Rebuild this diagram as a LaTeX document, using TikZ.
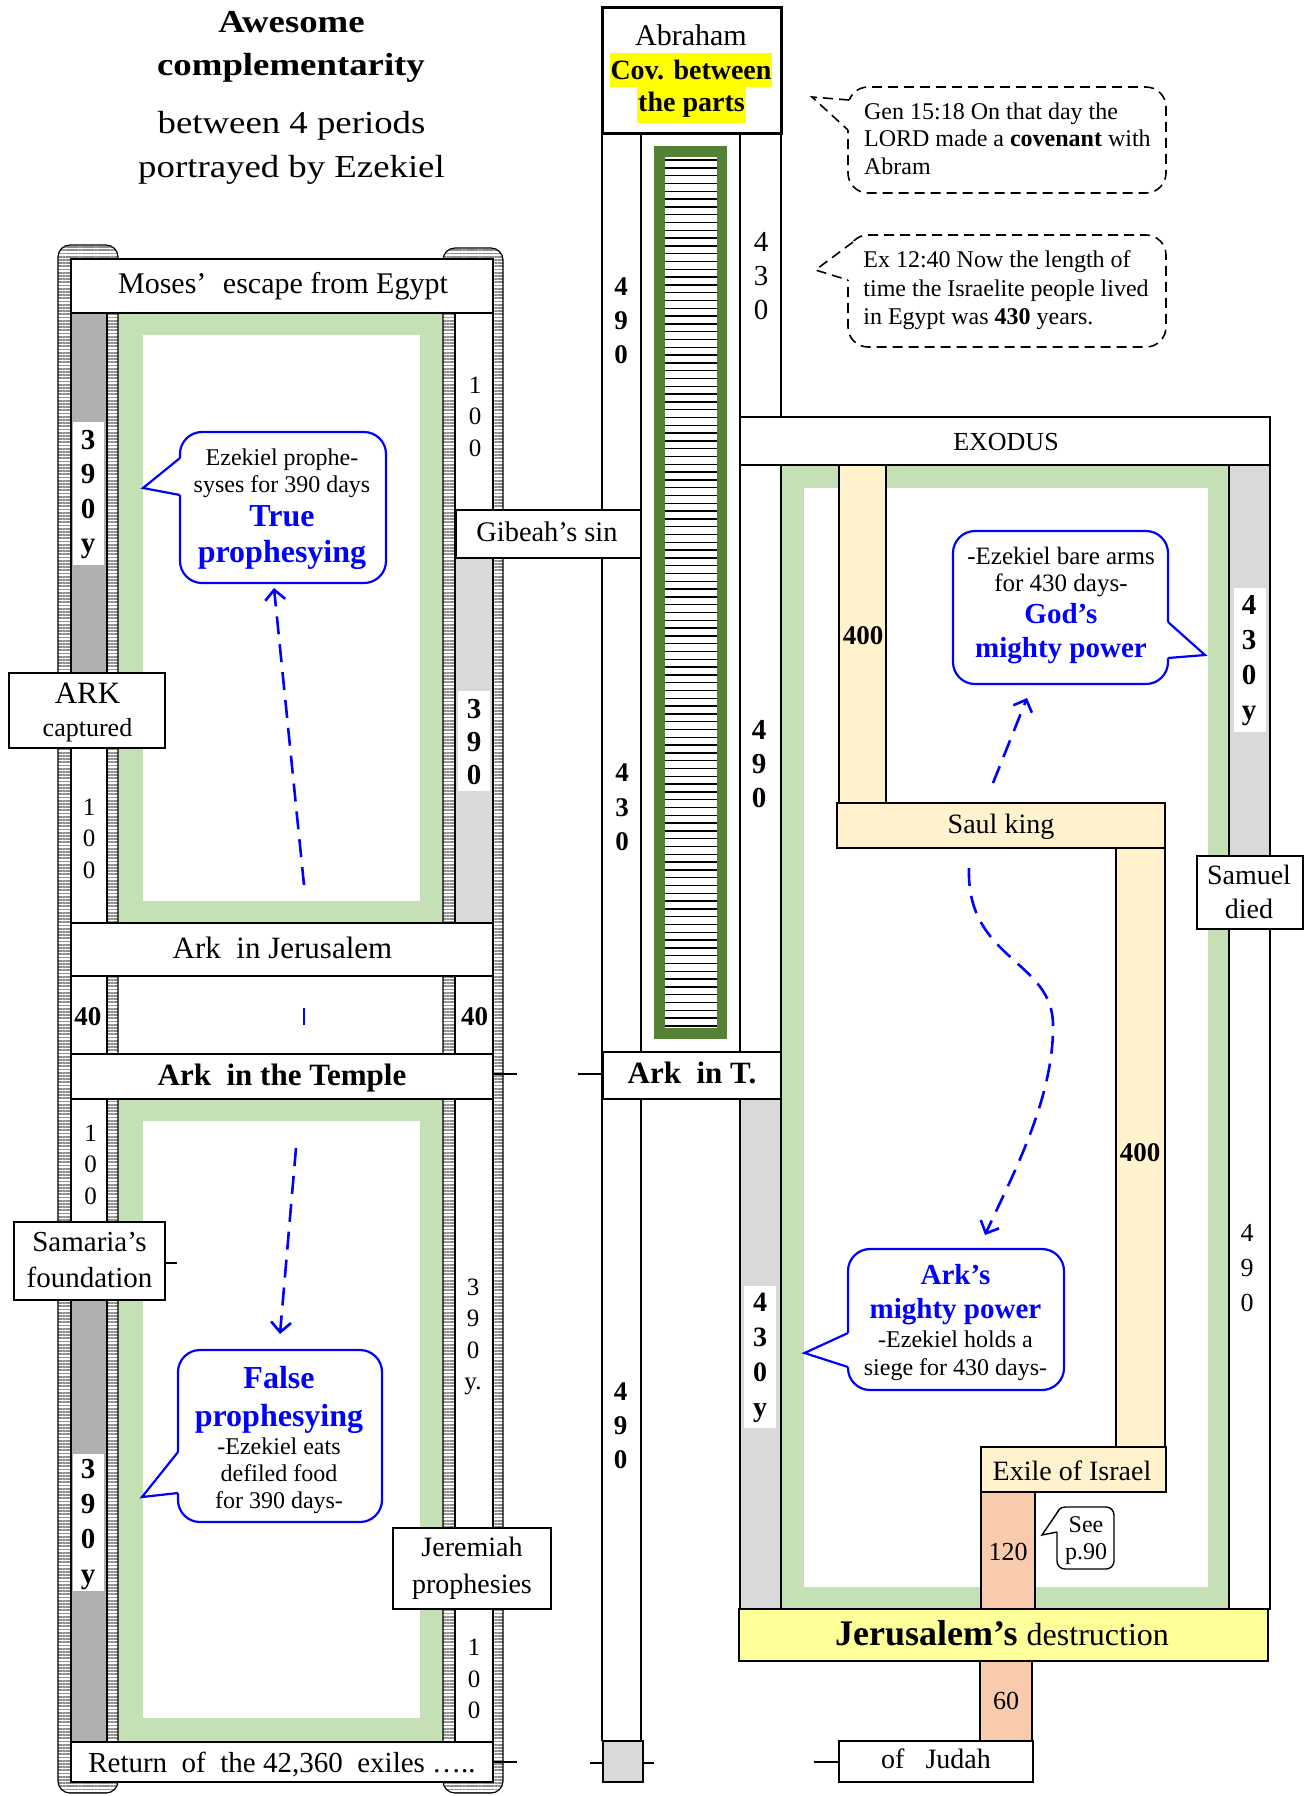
\documentclass[tikz,border=0pt]{standalone}
\usepackage{fontspec}
\setmainfont{Liberation Serif}
\newfontfamily\titlefont[FakeStretch=1.15]{Liberation Serif}
\usetikzlibrary{arrows.meta,patterns.meta}
\definecolor{gframe}{RGB}{197,224,180}
\definecolor{dgreen}{RGB}{84,130,53}
\definecolor{colgray}{RGB}{175,175,175}
\definecolor{lgray}{RGB}{217,217,217}
\definecolor{ylw}{RGB}{255,242,204}
\definecolor{orng}{RGB}{248,203,173}
\definecolor{jyel}{RGB}{255,255,153}
\definecolor{hyel}{RGB}{255,255,0}
\definecolor{bblue}{RGB}{0,0,255}
\begin{document}
\begin{tikzpicture}[x=0.5pt,y=-0.5pt,
 txt/.style={inner sep=0pt, align=center},
 fs/.style 2 args={font=\fontsize{#1}{#2}\selectfont},
 fsb/.style 2 args={font=\fontsize{#1}{#2}\selectfont\bfseries},
 bx/.style={draw=black, fill=white, line width=0.6pt},
 railfill/.style={pattern={Lines[angle=0,distance=1.6pt,line width=0.9pt]}, pattern color=black!45},
 ln/.style={line width=0.6pt},
 tk/.style={line width=1.4pt},
 tkthin/.style={line width=0.8pt},
 bub/.style={draw=bblue, fill=white, line width=1.1pt, rounded corners=11pt},
 bubline/.style={draw=bblue, line width=1.1pt},
 dbub/.style={draw=black, fill=white, line width=0.8pt, dash pattern=on 5pt off 3pt, rounded corners=10pt},
 dline/.style={draw=black, line width=0.8pt, dash pattern=on 5pt off 3pt},
 sbub/.style={draw=black, fill=white, line width=0.7pt, rounded corners=4pt},
 barrow/.style={draw=bblue, line width=1.3pt, dash pattern=on 9pt off 5pt, -{Straight Barb[length=5pt,width=10pt]}},
 bdash/.style={draw=bblue, line width=1.3pt},
]
\fill[white] (0,0) rectangle (1307,1796);
\useasboundingbox (0,0) rectangle (1307,1796);

% ---------------- title
\node[txt, anchor=base, font={\fontsize{16}{19}\titlefont\bfseries}] (title1) at (291.5,32) {Awesome};
\node[txt, anchor=base, font={\fontsize{16}{19}\titlefont\bfseries}] (title2) at (291,75) {complementarity};
\node[txt, anchor=base, font={\fontsize{16}{19}\titlefont}] (title3) at (291.5,133) {between 4 periods};
\node[txt, anchor=base, font={\fontsize{16}{19}\titlefont}] (title4) at (291.5,177) {portrayed by Ezekiel};

% ---------------- left scroll rails
\path[railfill, rounded corners=6pt] (58,245) rectangle (118,1793);
\path[railfill, rounded corners=6pt] (443,248) rectangle (503,1793);

% green frames
\fill[gframe] (118,313) rectangle (443,923);
\fill[white] (143,335) rectangle (420,901);
\fill[gframe] (118,1099) rectangle (443,1742);
\fill[white] (143,1121) rectangle (420,1718);

% left column
\fill[white] (71,259) rectangle (107,1782);
\fill[colgray] (71,313) rectangle (107,673);
\fill[white] (73,422) rectangle (104,565);
\fill[colgray] (71,1300) rectangle (107,1742);
\fill[white] (73,1454) rectangle (104,1591);
\draw[ln] (71,259) rectangle (107,1782);
% right column
\fill[white] (455,259) rectangle (493,1782);
\fill[lgray] (455,558) rectangle (493,923);
\fill[white] (458,691) rectangle (490,791);
\draw[ln] (455,259) rectangle (493,1782);
% rail outlines
\draw[ln, rounded corners=6pt] (58,245) rectangle (118,1793);
\draw[ln, rounded corners=6pt] (443,248) rectangle (503,1793);

% ---------------- middle column
\draw[ln] (602,133) -- (602,1741);
\draw[ln] (641,133) -- (641,1741);
\draw[ln] (740,133) -- (740,417);
\draw[ln] (781,133) -- (781,417);
\fill[dgreen] (654,146) rectangle (727,1039);
\fill[white] (665,157) rectangle (717,1028);
\foreach \k in {0,...,111} {\draw[line width=0.7pt] (665,{160+7.8*\k}) -- (717,{160+7.8*\k});}
\draw[line width=1.5pt, fill=white] (602,7) rectangle (781,133);

% ---------------- right section
\fill[gframe] (781,465) rectangle (1229,1609);
\fill[white] (804,488) rectangle (1208,1587);
\fill[lgray] (1229,465) rectangle (1270,856);
\fill[white] (1234,588) rectangle (1266,732);
\fill[lgray] (740,1099) rectangle (781,1609);
\fill[white] (744,1286) rectangle (776,1428);
\draw[ln] (740,465) rectangle (1270,1609);
\draw[ln] (781,465) -- (781,1609);
\draw[ln] (1229,465) -- (1229,1609);
\draw[ln, fill=ylw] (839,465) rectangle (886,803);
\draw[ln, fill=ylw] (1116,848) rectangle (1165,1447);
\draw[ln, fill=ylw] (837,803) rectangle (1165,848);
\draw[ln, fill=ylw] (981,1447) rectangle (1166,1492);
\draw[ln, fill=orng] (981,1492) rectangle (1035,1609);
\draw[ln, fill=orng] (980,1661) rectangle (1032,1741);
\draw[line width=0.8pt, fill=jyel] (739,1609) rectangle (1268,1661);

% ---------------- boxes
\draw[bx] (71,259) rectangle (493,313);
\draw[bx] (456,510) rectangle (641,558);
\draw[bx] (9,673) rectangle (165,748);
\draw[bx] (71,923) rectangle (493,976);
\draw[bx] (71,1054) rectangle (493,1099);
\draw[bx] (14,1222) rectangle (165,1300);
\draw[bx] (393,1528) rectangle (551,1609);
\draw[bx] (71,1742) rectangle (493,1782);
\draw[bx] (740,417) rectangle (1270,465);
\draw[bx] (603,1052) rectangle (781,1099);
\draw[bx] (1197,856) rectangle (1303,929);
\draw[bx] (839,1741) rectangle (1033,1782);
\draw[ln, fill=lgray] (603,1741) rectangle (643,1782);

% ticks
\draw[tk] (165,1263) -- (177,1263);
\draw[tk] (493,1074) -- (517,1074);
\draw[tkthin] (578,1074) -- (603,1074);
\draw[tk] (493,1762) -- (517,1762);
\draw[tkthin] (590,1763) -- (603,1763);
\draw[tkthin] (643,1763) -- (654,1763);
\draw[tk] (814,1762) -- (839,1762);

% ---------------- box texts
\node[txt, fs={15}{18}] (moses) at (283,286.5) {Moses’\hspace{0.3em} escape from Egypt};
\node[txt, fs={14.2}{17}] (gibeah) at (547,532) {Gibeah’s sin};
\node[txt, fs={15.5}{18}] (ark1) at (87.5,693.5) {ARK};
\node[txt, fs={13}{16}] (ark2) at (87.5,730) {captured};
\node[txt, fs={15.5}{18}] (arkjer) at (282.5,947.6) {Ark\ \ in Jerusalem};
\node[txt, fsb={15.5}{18}] (arktemple) at (282,1078) {Ark\ \ in the Temple};
\node[txt, fs={14.5}{18.3}] (samaria) at (89.5,1260) {Samaria’s\\foundation};
\node[txt, fs={14}{18.3}] (jeremiah) at (472,1568) {Jeremiah\\prophesies};
\node[txt, fs={14.5}{18}] (return) at (282,1764) {Return\ \ of\ \ the 42,360\ \ exiles …..};
\node[txt, fs={15}{18}] (abraham) at (691,34.8) {Abraham};
\node[txt, fsb={14}{17}, fill=hyel, inner xsep=0.5pt, minimum height=17pt] (cov1) at (691,70) {Cov. between};
\node[txt, fsb={14}{17}, fill=hyel, inner xsep=0.5pt, minimum height=18pt] (cov2) at (691.5,105) {the parts};
\node[txt, fsb={15.5}{18}] (arkT) at (692,1072.8) {Ark\ \ in T.};
\node[txt, fs={13}{16}] (exodus) at (1006,442) {EXODUS};
\node[txt, fs={14}{17}] (saul) at (1001,826.3) {Saul king};
\node[txt, fs={14}{17}] (exile) at (1072,1470.5) {Exile of Israel};
\node[txt, fs={14}{16.7}] (samuel) at (1249,892) {Samuel\\died};
\node[txt, fs={14}{17}] (judah) at (936,1759) {of\ \ \ Judah};
\node[txt, fs={13}{16}] (n120) at (1008,1551.5) {120};
\node[txt, fs={13}{16}] (n60) at (1006,1701) {60};
\node[txt, fsb={13.5}{16}] (y400a) at (863,635.8) {400};
\node[txt, fsb={13.5}{16}] (y400b) at (1140,1152.4) {400};
\node[txt] (jerus) at (1002,1633.3) {{\fontsize{18}{20}\selectfont\bfseries Jerusalem’s }{\fontsize{16}{20}\selectfont destruction}};

% ---------------- digit stacks
\node[txt, fsb={14.5}{17.2}] (d390a) at (88,494.5) {3\\9\\0\\y};
\node[txt, fs={12.5}{15.75}] (d100a) at (475,416.5) {1\\0\\0};
\node[txt, fsb={14.5}{16.5}] (d390b) at (474,742) {3\\9\\0};
\node[txt, fs={12.5}{15.75}] (d100b) at (89,838.5) {1\\0\\0};
\node[txt, fsb={13.5}{16}] (d40a) at (88,1016.6) {40};
\node[txt, fsb={13.5}{16}] (d40b) at (474.5,1016.6) {40};
\node[txt, fs={12.5}{15.75}] (d100c) at (90.5,1164.7) {1\\0\\0};
\node[txt, fsb={14.5}{17.5}] (d390c) at (88,1525) {3\\9\\0\\y};
\node[txt, fs={12.5}{15.8}] (d390d) at (473,1337) {3\\9\\0\\y.};
\node[txt, fs={12.5}{15.75}] (d100d) at (474,1679.3) {1\\0\\0};
\node[txt, fsb={13.5}{17}] (d490a) at (621,321) {4\\9\\0};
\node[txt, fs={14.5}{17}] (d430a) at (761,276) {4\\3\\0};
\node[txt, fsb={13.5}{17.25}] (d430b) at (622,807.5) {4\\3\\0};
\node[txt, fsb={13.5}{17}] (d490b) at (620.5,1426) {4\\9\\0};
\node[txt, fsb={14.5}{17}] (d490c) at (759,764) {4\\9\\0};
\node[txt, fsb={14.5}{17.5}] (d430c) at (1249,661) {4\\3\\0\\y};
\node[txt, fs={13}{17.5}] (d490d) at (1247,1268) {4\\9\\0};
\node[txt, fsb={14}{17.5}] (d430d) at (760,1358) {4\\3\\0\\y};

% ---------------- blue bubbles
\draw[bub] (180,432) rectangle (386,583);
\fill[white] (184,458) -- (180,458) -- (143,488) -- (180,495) -- (184,495) -- cycle;
\draw[bubline] (180,458) -- (143,488) -- (180,495);
\node[txt, fs={12}{13.5}] (tp1) at (282,473) {Ezekiel prophe-\\syses for 390 days};
\node[txt, fsb={16}{18}, text=bblue] (tp2) at (282,538) {True\\prophesying};

\draw[bub] (178,1350) rectangle (382,1522);
\fill[white] (182,1452) -- (178,1452) -- (142,1497) -- (178,1493) -- (182,1493) -- cycle;
\draw[bubline] (178,1452) -- (142,1497) -- (178,1493);
\node[txt, fsb={16}{19}, text=bblue] (fp1) at (279,1400) {False\\prophesying};
\node[txt, fs={12}{13.6}] (fp2) at (279,1475.6) {-Ezekiel eats\\defiled food\\for 390 days-};

\draw[bub] (953,531) rectangle (1168,684);
\fill[white] (1164,622) -- (1168,622) -- (1205,655) -- (1168,658) -- (1164,658) -- cycle;
\draw[bubline] (1168,622) -- (1205,655) -- (1168,658);
\node[txt, fs={12.5}{13.8}] (gp1) at (1061,572) {-Ezekiel bare arms\\for 430 days-};
\node[txt, fsb={14.5}{17}, text=bblue] (gp2) at (1061,633.5) {God’s\\mighty power};

\draw[bub] (848,1249) rectangle (1064,1390);
\fill[white] (852,1333) -- (848,1333) -- (804.5,1353) -- (848,1367) -- (852,1367) -- cycle;
\draw[bubline] (848,1333) -- (804.5,1353) -- (848,1367);
\node[txt, fsb={14.5}{17}, text=bblue] (ap1) at (955.5,1294.8) {Ark’s\\mighty power};
\node[txt, fs={12}{14}] (ap2) at (955.5,1356) {-Ezekiel holds a\\siege for 430 days-};

% ---------------- dashed black bubbles
\draw[dbub] (848,87) rectangle (1166,193);
\fill[white] (857,100) -- (849,100) -- (812,97) -- (848,130) -- (857,130) -- cycle;
\draw[dline] (849,100) -- (812,97) -- (848,130);
\node[inner sep=0pt, align=left, anchor=west, fs={12}{13.7}] (gen) at (863.7,138.5) {Gen 15:18 On that day the\\LORD made a \textbf{covenant} with\\Abram};

\draw[dbub] (848,235) rectangle (1166,347);
\fill[white] (858,242) -- (853,242) -- (815.5,270) -- (848,280) -- (858,280) -- cycle;
\draw[dline] (853,242) -- (815.5,270) -- (848,280);
\node[inner sep=0pt, align=left, anchor=west, fs={12}{14.2}] (exq) at (863,290.4) {Ex 12:40 Now the length of\\time the Israelite people lived\\in Egypt was \textbf{430} years.};

% See p.90
\draw[sbub] (1057,1507) rectangle (1114,1569);
\fill[white] (1062,1510) -- (1059,1510) -- (1042,1535) -- (1057,1532) -- (1062,1532) -- cycle;
\draw[line width=0.7pt] (1059,1510) -- (1042,1535) -- (1057,1532);
\node[txt, fs={12}{13.3}] (seep) at (1086,1540.4) {See\\p.90};

% ---------------- blue dashed arrows
\coordinate (a1s) at (304,885);
\coordinate (a1e) at (274,588);
\draw[barrow] (a1s) -- (a1e);
\coordinate (a2s) at (304,1008);
\coordinate (a2e) at (304,1025);
\draw[bdash] (a2s) -- (a2e);
\coordinate (a3s) at (296,1148);
\coordinate (a3e) at (280,1334);
\draw[barrow] (a3s) -- (a3e);
\coordinate (a4s) at (993,783);
\coordinate (a4e) at (1027,698);
\draw[barrow] (a4s) -- (a4e);
\coordinate (a5s) at (969,868);
\coordinate (a5m) at (1053,1025);
\coordinate (a5e) at (985,1235);
\draw[barrow] (a5s) .. controls (966,960) and (1053,960) .. (a5m) .. controls (1054,1100) and (1010,1180) .. (a5e);
\end{tikzpicture}
\end{document}
